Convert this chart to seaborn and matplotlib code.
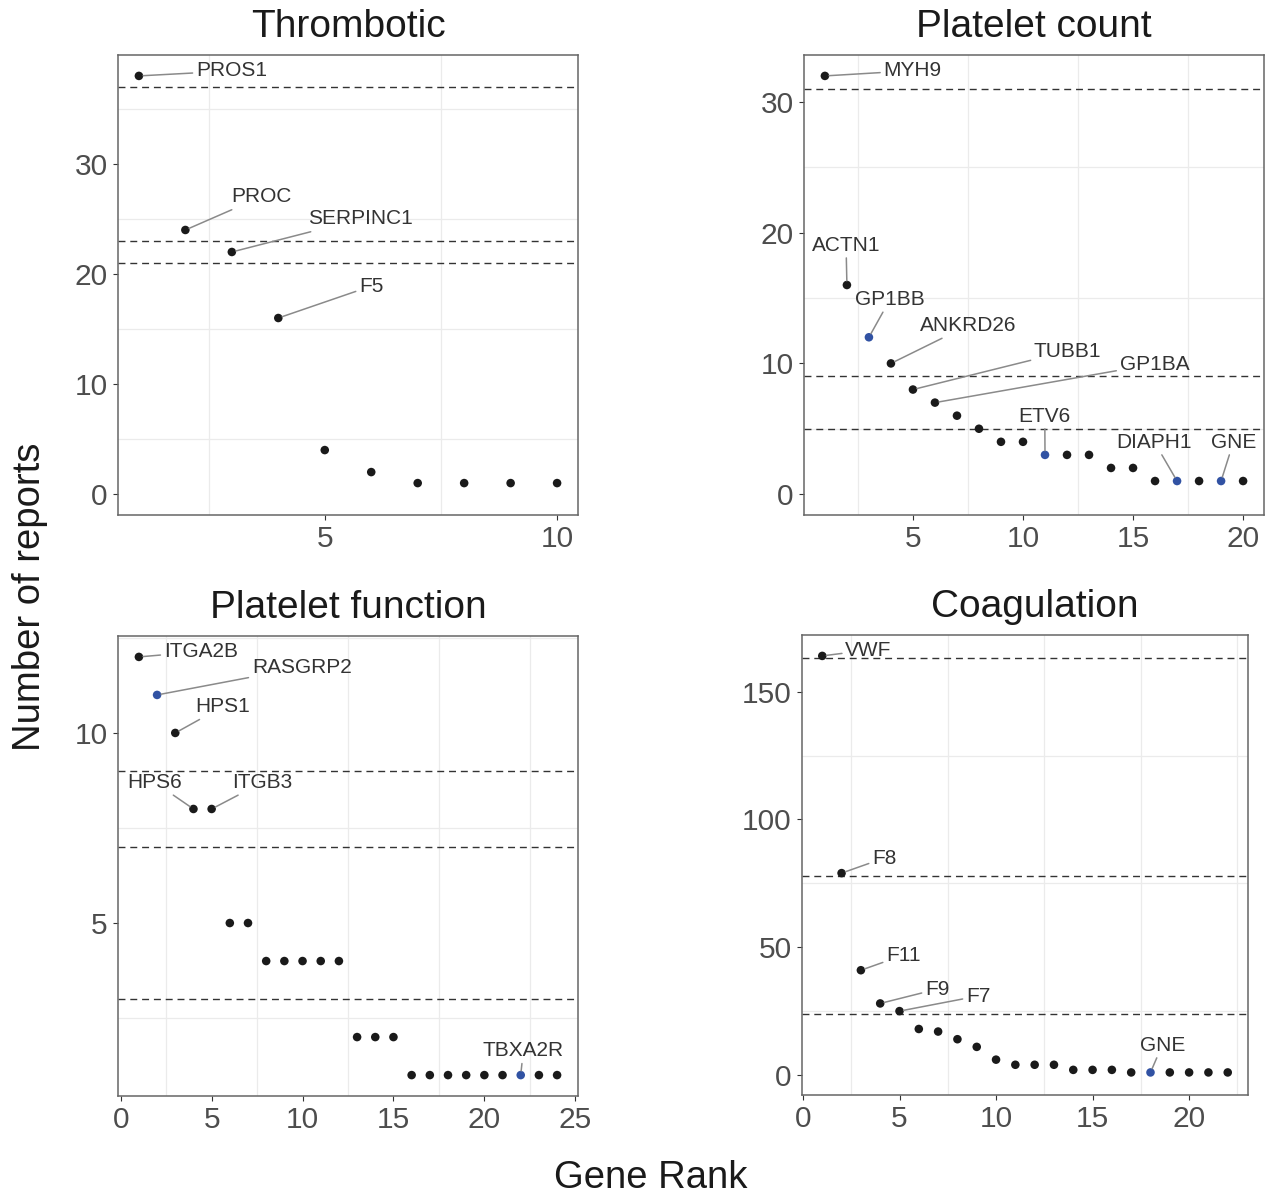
import numpy as np
import pandas as pd
import matplotlib
matplotlib.use("Agg")
import matplotlib.pyplot as plt
import seaborn as sns

# ---------------- data ----------------
thrombotic_counts = [38, 24, 22, 16, 4, 2, 1, 1, 1, 1]
thrombotic_genes = {1: "PROS1", 2: "PROC", 3: "SERPINC1", 4: "F5"}
thrombotic_novel = []
thrombotic_thresholds = [37, 23, 21]

platelet_count_counts = [32, 16, 12, 10, 8, 7, 6, 5, 4, 4, 3, 3, 3, 2, 2, 1, 1, 1, 1, 1]
platelet_count_genes = {1: "MYH9", 2: "ACTN1", 3: "GP1BB", 4: "ANKRD26", 5: "TUBB1",
                        6: "GP1BA", 11: "ETV6", 17: "DIAPH1", 19: "GNE"}
platelet_count_novel = [3, 11, 17, 19]
platelet_count_thresholds = [31, 9, 5]

platelet_function_counts = [12, 11, 10, 8, 8, 5, 5, 4, 4, 4, 4, 4, 2, 2, 2,
                            1, 1, 1, 1, 1, 1, 1, 1, 1]
platelet_function_genes = {1: "ITGA2B", 2: "RASGRP2", 3: "HPS1", 4: "HPS6", 5: "ITGB3", 22: "TBXA2R"}
platelet_function_novel = [2, 22]
platelet_function_thresholds = [9, 7, 3]

coagulation_counts = [164, 79, 41, 28, 25, 18, 17, 14, 11, 6, 4, 4, 4, 2, 2, 2,
                      1, 1, 1, 1, 1, 1]
coagulation_genes = {1: "VWF", 2: "F8", 3: "F11", 4: "F9", 5: "F7", 18: "GNE"}
coagulation_novel = [18]
coagulation_thresholds = [163, 78, 24]

panel_titles = ["Thrombotic", "Platelet count", "Platelet function", "Coagulation"]
x_ticks = [[5, 10], [5, 10, 15, 20], [0, 5, 10, 15, 20, 25], [0, 5, 10, 15, 20]]
y_ticks = [[0, 10, 20, 30], [0, 10, 20, 30], [5, 10], [0, 50, 100, 150]]

# ---------------- layout (label text positions in data coords) ----------------
label_pos = [
    {"PROS1": (2.99, 38.45), "PROC": (3.63, 27.0), "SERPINC1": (5.77, 25.0), "F5": (6.0, 18.9)},
    {"MYH9": (4.98, 32.4), "ACTN1": (1.96, 19.05), "GP1BB": (3.96, 14.9), "ANKRD26": (7.5, 12.9),
     "TUBB1": (12.03, 10.94), "GP1BA": (15.97, 9.95), "ETV6": (10.99, 5.97),
     "DIAPH1": (15.97, 3.98), "GNE": (19.56, 3.98)},
    {"ITGA2B": (4.4, 12.14), "RASGRP2": (9.95, 11.72), "HPS1": (5.6, 10.69), "HPS6": (1.87, 8.7),
     "ITGB3": (7.8, 8.7), "TBXA2R": (22.14, 1.64)},
    {"VWF": (3.39, 166.3), "F8": (4.21, 84.9), "F11": (5.2, 46.9), "F9": (6.95, 33.6),
     "F7": (9.07, 30.9), "GNE": (18.61, 11.7)},
]
W, H = 1269, 1196
rects_px = [(118, 55, 460, 460), (804, 55, 460, 460), (118, 636, 460, 460), (802, 635, 446, 460)]
title_x = [0.5, 0.5, 0.5, 0.521]
y_low = [0, 0, 1, 0.35]

panels = [
    (thrombotic_counts, thrombotic_genes, thrombotic_novel, thrombotic_thresholds),
    (platelet_count_counts, platelet_count_genes, platelet_count_novel, platelet_count_thresholds),
    (platelet_function_counts, platelet_function_genes, platelet_function_novel, platelet_function_thresholds),
    (coagulation_counts, coagulation_genes, coagulation_novel, coagulation_thresholds),
]

sns.set_theme(style="white")
plt.rcParams["font.family"] = ["Liberation Sans", "DejaVu Sans"]

fig = plt.figure(figsize=(W / 100, H / 100), dpi=100)

def minor_breaks(major, lo, hi):
    step = major[1] - major[0]
    cand = [major[0] - step / 2] + [m + step / 2 for m in major]
    return [c for c in cand if lo <= c <= hi]

for i, (counts, genes, novel, thresholds) in enumerate(panels):
    l, t, w, h = rects_px[i]
    ax = fig.add_axes([l / W, (H - t - h) / H, w / W, h / H])
    n = len(counts)
    ranks = np.arange(1, n + 1)
    df = pd.DataFrame({"rank": ranks, "count": counts,
                       "group": ["novel" if r in novel else "known" for r in ranks]})
    xlo, xhi = 1 - 0.05 * (n - 1), n + 0.05 * (n - 1)
    ymin = y_low[i]
    ymax = max(counts)
    span = ymax - ymin
    ylo, yhi = ymin - 0.05 * span, ymax + 0.05 * span
    ax.set_xlim(xlo, xhi)
    ax.set_ylim(ylo, yhi)

    for v in minor_breaks(x_ticks[i], xlo, xhi):
        ax.axvline(v, color="#EBEBEB", lw=0.9, zorder=0)
    for v in minor_breaks(y_ticks[i], ylo, yhi):
        ax.axhline(v, color="#EBEBEB", lw=0.9, zorder=0)
    for th in thresholds:
        ax.axhline(th, color="#333333", lw=1.0, ls=(0, (5, 3.5)), zorder=1)

    sns.scatterplot(data=df, x="rank", y="count", hue="group",
                    palette={"known": "#1a1a1a", "novel": "#3152A3"},
                    s=38, linewidth=0, legend=False, ax=ax, zorder=3)

    for rank, gene in genes.items():
        tx, ty = label_pos[i][gene]
        ax.annotate(gene, xy=(rank, counts[rank - 1]), xytext=(tx, ty),
                    ha="center", va="center", fontsize=15, color="#333333", zorder=4,
                    arrowprops=dict(arrowstyle="-", color="#8a8a8a", lw=1.1,
                                    shrinkA=0, shrinkB=3))

    ax.set_xticks(x_ticks[i])
    ax.set_yticks(y_ticks[i])
    ax.set_xlabel("")
    ax.set_ylabel("")
    ax.tick_params(bottom=True, left=True, direction="out", length=3.5, width=0.8,
                   color="#333333", labelsize=21.5, labelcolor="#4D4D4D", pad=4)
    for sp in ax.spines.values():
        sp.set_color("#666666")
        sp.set_linewidth(1.1)
    ax.set_title(panel_titles[i], fontsize=28, pad=13, color="#1a1a1a", x=title_x[i])

fig.text(30 / W, (H - 597) / H, "Number of reports", rotation=90, ha="center", va="center",
         fontsize=27.5, color="#1a1a1a")
fig.text(651 / W, (H - 1178) / H, "Gene Rank", ha="center", va="center",
         fontsize=27.5, color="#1a1a1a")

fig.savefig("out.png", dpi=100)
